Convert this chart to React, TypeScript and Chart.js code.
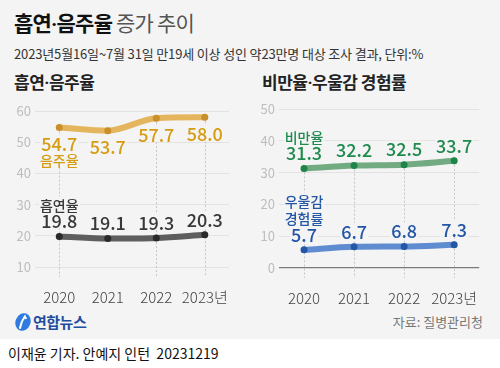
import React, { useEffect, useRef } from 'react';
import { Chart, registerables } from 'chart.js';

Chart.register(...registerables);

// ---- data ----
const YEARS = ['2020', '2021', '2022', '2023년'];
const DRINKING = [54.7, 53.7, 57.7, 58.0];
const SMOKING = [19.8, 19.1, 19.3, 20.3];
const OBESITY = [31.3, 32.2, 32.5, 33.7];
const DEPRESSION = [5.7, 6.7, 6.8, 7.3];
const LEFT_TICKS = [10, 20, 30, 40, 50, 60];
const RIGHT_TICKS = [0, 10, 20, 30, 40, 50];

const BG = '#f4f4f4';
const FONT = "'Noto Sans CJK KR', 'Noto Sans', sans-serif";
const DOT_FONT = "Roboto, 'Noto Sans', sans-serif";

interface SeriesDef {
  data: number[];
  name: string[];
  line: string;
  point: string;
  text: string;
  below: boolean;
}

const LEFT_SERIES: SeriesDef[] = [
  { data: DRINKING, name: ['음주율'], line: '#e4b55c', point: '#c98f2b', text: '#d69c14', below: true },
  { data: SMOKING, name: ['흡연율'], line: '#5e5e5e', point: '#2a2a2a', text: '#383838', below: false },
];
const RIGHT_SERIES: SeriesDef[] = [
  { data: OBESITY, name: ['비만율'], line: '#72ab82', point: '#1e8449', text: '#1f8a4e', below: false },
  { data: DEPRESSION, name: ['우울감', '경험률'], line: '#5f8bd0', point: '#2456a6', text: '#2456a6', below: false },
];

interface PanelProps {
  series: SeriesDef[];
  ticks: number[];
  min: number;
  max: number;
  yWidth: number;
  padTop: number;
  padRight: number;
  width: number;
  height: number;
  left: number;
  top: number;
  skipDash: number[];
}

function Panel(p: PanelProps) {
  const ref = useRef<HTMLCanvasElement>(null);
  useEffect(() => {
    if (!ref.current) return;
    const overlay = {
      id: 'overlay',
      beforeDatasetsDraw(chart: any) {
        const ctx = chart.ctx;
        const area = chart.chartArea;
        const metas = p.series.map((_, i) => chart.getDatasetMeta(i));
        ctx.save();
        ctx.strokeStyle = '#c6c6c6';
        ctx.lineWidth = 1;
        ctx.setLineDash([2, 2]);
        YEARS.forEach((_, i) => {
          if (p.skipDash.includes(i)) return;
          const x = Math.round(chart.scales.x.getPixelForValue(i)) + 0.5;
          const top = Math.min(...metas.map((m: any) => m.data[i].y));
          ctx.beginPath();
          ctx.moveTo(x, top);
          ctx.lineTo(x, area.bottom + 10);
          ctx.stroke();
        });
        ctx.restore();
      },
      afterDatasetsDraw(chart: any) {
        const ctx = chart.ctx;
        ctx.save();
        ctx.textAlign = 'center';
        ctx.textBaseline = 'middle';
        p.series.forEach((s, di) => {
          const meta = chart.getDatasetMeta(di);
          meta.data.forEach((pt: any, i: number) => {
            const txt = s.data[i].toFixed(1);
            const y = s.below ? pt.y + 16 : pt.y - 16;
            ctx.font = `500 18px ${FONT}`;
            const w = ctx.measureText(txt).width;
            ctx.fillStyle = BG;
            ctx.fillRect(pt.x - w / 2 - 1, y - 8, w + 2, 16);
            ctx.fillStyle = s.text;
            ctx.fillText(txt, pt.x, y + 1);
            if (i === 0) {
              ctx.font = `500 14px ${FONT}`;
              s.name.forEach((n, k) => {
                const ny = s.below ? y + 16 + k * 17 : y - 16 - (s.name.length - 1 - k) * 17;
                const nw = ctx.measureText(n).width;
                ctx.fillStyle = BG;
                ctx.fillRect(pt.x - nw / 2 - 1, ny - 8, nw + 2, 16);
                ctx.fillStyle = s.text;
                ctx.fillText(n, pt.x, ny + 1);
              });
            }
          });
        });
        ctx.restore();
      },
    };
    const chart = new Chart(ref.current, {
      type: 'line',
      data: {
        labels: YEARS,
        datasets: p.series.map((s) => ({
          data: s.data,
          borderColor: s.line,
          borderWidth: 6,
          cubicInterpolationMode: 'monotone',
          pointRadius: 3.5,
          pointBackgroundColor: s.point,
          pointBorderWidth: 0,
          borderCapStyle: 'round',
          fill: false,
        })),
      },
      options: {
        animation: false,
        responsive: false,
        maintainAspectRatio: false,
        layout: { padding: { top: p.padTop, right: p.padRight, left: 0, bottom: 0 } },
        plugins: { legend: { display: false }, tooltip: { enabled: false } },
        scales: {
          x: {
            type: 'category',
            offset: true,
            grid: { display: false, drawTicks: false },
            border: { display: false },
            ticks: {
              color: '#444',
              font: { family: FONT, size: 15, weight: '300' },
              padding: 21,
              maxRotation: 0,
              autoSkip: false,
            },
            afterFit: (s: any) => {
              s.height = 40;
            },
          },
          y: {
            min: p.min,
            max: p.max,
            afterBuildTicks: (s: any) => {
              s.ticks = p.ticks.map((v) => ({ value: v }));
            },
            grid: {
              color: (c: any) => (c.tick && c.tick.value === 0 ? '#7a7a7a' : '#e2e2e2'),
              lineWidth: (c: any) => (c.tick && c.tick.value === 0 ? 1.3 : 1),
              drawTicks: false,
            },
            border: { display: false },
            ticks: { color: '#bdbdbd', font: { family: FONT, size: 13 }, padding: 4 },
            afterFit: (s: any) => {
              s.width = p.yWidth;
            },
          },
        },
      } as any,
      plugins: [overlay],
    });
    return () => chart.destroy();
  }, []);
  return (
    <canvas
      ref={ref}
      width={p.width}
      height={p.height}
      style={{ position: 'absolute', left: p.left, top: p.top, width: p.width, height: p.height }}
    />
  );
}

const Dot = () => <span style={{ fontFamily: DOT_FONT }}>·</span>;

export default function App() {
  return (
    <div
      style={{
        position: 'absolute',
        left: 0,
        top: 0,
        width: 500,
        height: 368,
        background: '#fff',
        fontFamily: FONT,
        overflow: 'hidden',
      }}
    >
      <div style={{ position: 'absolute', left: 0, top: 0, width: 500, height: 339, background: BG }} />
      <div style={{ position: 'absolute', left: 14, top: 9, fontSize: 21, lineHeight: '26px', whiteSpace: 'nowrap', letterSpacing: -0.8 }}>
        <span style={{ fontWeight: 700, color: '#111' }}>흡연<Dot />음주율</span>
        <span style={{ fontWeight: 400, color: '#555' }}> 증가 추이</span>
      </div>
      <div style={{ position: 'absolute', left: 14, top: 45, fontSize: 13, lineHeight: '17px', color: '#333', whiteSpace: 'nowrap', letterSpacing: -0.15 }}>
        2023년5월16일~7월 31일 만19세 이상 성인 약23만명 대상 조사 결과, 단위:%
      </div>
      <div style={{ position: 'absolute', left: 14, top: 72, fontSize: 17, lineHeight: '20px', fontWeight: 700, color: '#222', whiteSpace: 'nowrap', letterSpacing: -0.5 }}>
        흡연<Dot />음주율
      </div>
      <div style={{ position: 'absolute', left: 262, top: 72, fontSize: 17, lineHeight: '20px', fontWeight: 700, color: '#222', whiteSpace: 'nowrap', letterSpacing: -0.5 }}>
        비만율<Dot />우울감 경험률
      </div>
      <Panel series={LEFT_SERIES} ticks={LEFT_TICKS} min={10} max={60} yWidth={35} padTop={16} padRight={10} width={250} height={212} left={0} top={95} skipDash={[1]} />
      <Panel series={RIGHT_SERIES} ticks={RIGHT_TICKS} min={0} max={50} yWidth={29} padTop={14} padRight={15} width={250} height={213} left={250} top={95} skipDash={[]} />
      <svg style={{ position: 'absolute', left: 14, top: 312 }} width={18} height={20} viewBox="0 0 18 20">
        <ellipse cx={9} cy={10} rx={7.5} ry={9} transform="rotate(20 9 10)" fill="#2f7be0" />
        <path d="M11 4 Q7 10 6 16" stroke="#fff" strokeWidth={2} fill="none" strokeLinecap="round" />
        <circle cx={11.5} cy={6} r={1.3} fill="#fff" />
      </svg>
      <div style={{ position: 'absolute', left: 33, top: 312, fontSize: 15, lineHeight: '20px', fontWeight: 700, color: '#1d4f9e', whiteSpace: 'nowrap', letterSpacing: -0.5 }}>
        연합뉴스
      </div>
      <div style={{ position: 'absolute', right: 17, top: 313, fontSize: 13, lineHeight: '18px', color: '#777', whiteSpace: 'nowrap' }}>
        자료: 질병관리청
      </div>
      <div style={{ position: 'absolute', left: 8, top: 344, fontSize: 14, lineHeight: '18px', color: '#111', whiteSpace: 'nowrap' }}>
        이재윤 기자. 안예지 인턴&nbsp;&nbsp;20231219
      </div>
    </div>
  );
}
